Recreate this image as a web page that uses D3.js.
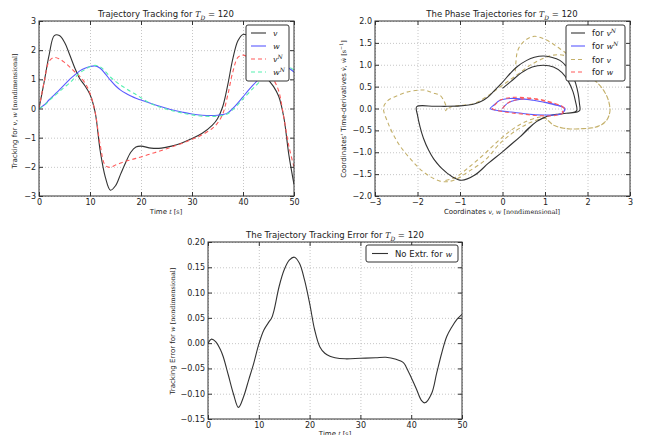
<!DOCTYPE html>
<html>
<head>
<meta charset="utf-8">
<script src="https://cdn.jsdelivr.net/npm/d3@7"></script>
<style>
  body { margin: 0; background: #fff; }
  svg { display: block; }
</style>
</head>
<body>
<svg id="fig" width="646" height="435"></svg>
<script>
// ---- data: trajectory tracking (top left) ----
const tTrack = [0,1,2,3,4,5,6,7,8,9,10,11,12,13,14,15,16,17,18,19,20,22,24,26,28,30,32,34,35,36,37,38,39,40,41,42,43,44,45,46,47,48,49,50];
const vTrack = [0,0.9,1.85,2.5,2.5,2.27,1.85,1.4,1.02,0.78,0.48,-0.12,-1.45,-2.35,-2.8,-2.65,-2.25,-1.85,-1.5,-1.32,-1.29,-1.36,-1.36,-1.29,-1.18,-1.03,-0.85,-0.57,-0.35,0.05,0.8,1.7,2.32,2.54,2.48,2.2,1.7,1.25,0.98,0.75,0.42,-0.3,-1.6,-2.6];
const wTrack = [0,0.12,0.3,0.47,0.64,0.82,1.0,1.15,1.29,1.38,1.44,1.46,1.38,1.19,0.97,0.78,0.63,0.52,0.43,0.35,0.29,0.17,0.06,-0.04,-0.12,-0.19,-0.23,-0.24,-0.23,-0.21,-0.15,0.0,0.19,0.4,0.61,0.81,0.99,1.15,1.28,1.38,1.44,1.45,1.38,1.25];
const vNTrack = [0,0.9,1.62,1.75,1.7,1.58,1.43,1.26,1.1,0.88,0.52,-0.12,-1.25,-1.95,-2.02,-1.94,-1.87,-1.81,-1.76,-1.71,-1.66,-1.55,-1.44,-1.32,-1.2,-1.06,-0.9,-0.68,-0.5,-0.2,0.45,1.25,1.75,1.83,1.75,1.6,1.45,1.3,1.15,0.98,0.6,-0.3,-1.3,-2.0];
const wNTrack = [0,0.1,0.27,0.43,0.58,0.73,0.88,1.05,1.22,1.34,1.43,1.48,1.43,1.27,1.08,0.93,0.8,0.69,0.58,0.48,0.37,0.16,0.03,-0.07,-0.15,-0.22,-0.26,-0.27,-0.26,-0.24,-0.18,-0.04,0.13,0.33,0.51,0.7,0.87,1.05,1.22,1.36,1.45,1.48,1.43,1.31];

// ---- data: phase trajectories (top right), [coordinate, derivative] ----
const phaseVN = [[0,0.46],[0.2,0.62],[0.45,0.82],[0.7,0.95],[0.96,0.99],[1.2,0.95],[1.4,0.82],[1.55,0.62],[1.66,0.38],[1.72,0.15],[1.75,-0.04],[1.7,-0.08],[1.5,-0.11],[1.3,-0.13],[1.12,-0.16],[0.95,-0.22],[0.8,-0.3],[0.6,-0.46],[0.41,-0.65],[0.2,-0.82],[0,-0.99],[-0.33,-1.25],[-0.65,-1.52],[-0.96,-1.64],[-1.2,-1.55],[-1.43,-1.37],[-1.62,-1.15],[-1.74,-0.95],[-1.86,-0.68],[-1.94,-0.42],[-2.0,-0.15],[-2.02,0.04],[-1.6,0.05],[-1.3,0.05],[-1.0,0.06],[-0.8,0.08],[-0.65,0.11],[-0.45,0.19],[-0.33,0.27],[-0.15,0.45],[0,0.6],[0.18,0.8],[0.35,0.96],[0.57,1.1],[0.75,1.17],[0.96,1.2],[1.15,1.17],[1.35,1.1],[1.5,0.97],[1.63,0.8],[1.72,0.58],[1.78,0.34],[1.81,0.12],[1.82,-0.04],[1.76,-0.08],[1.5,-0.11],[1.12,-0.16],[0.95,-0.22],[0.8,-0.3],[0.41,-0.65],[0,-0.99],[-0.33,-1.25],[-0.65,-1.52],[-0.96,-1.64],[-1.2,-1.55],[-1.43,-1.37],[-1.62,-1.15]];
const phaseWN = [[0,0],[0.05,0.06],[0.15,0.14],[0.3,0.19],[0.5,0.21],[0.72,0.19],[0.95,0.15],[1.12,0.11],[1.3,0.07],[1.39,0.04],[1.46,0],[1.44,-0.07],[1.38,-0.12],[1.2,-0.15],[1.0,-0.15],[0.72,-0.14],[0.45,-0.11],[0.2,-0.08],[0,-0.06],[-0.15,-0.04],[-0.25,-0.02],[-0.29,0],[-0.2,0.08],[-0.06,0.19],[0.18,0.23],[0.45,0.22],[0.72,0.19],[1.0,0.14],[1.2,0.1],[1.39,0.05],[1.47,0.0],[1.44,-0.08],[1.3,-0.15]];
const phaseV = [[0.3,0.85],[0.32,1.1],[0.35,1.3],[0.45,1.48],[0.6,1.6],[0.76,1.65],[0.95,1.6],[1.12,1.52],[1.3,1.4],[1.51,1.25],[1.7,1.06],[1.9,0.87],[2.1,0.7],[2.29,0.53],[2.42,0.35],[2.49,0.19],[2.53,-0.04],[2.5,-0.17],[2.45,-0.27],[2.35,-0.36],[2.21,-0.42],[1.9,-0.46],[1.51,-0.46],[1.2,-0.38],[1.08,-0.28],[0.98,-0.22],[0.85,-0.25],[0.57,-0.36],[0.25,-0.55],[-0.06,-0.8],[-0.41,-1.18],[-0.8,-1.44],[-1.12,-1.63],[-1.43,-1.67],[-1.82,-1.48],[-2.14,-1.18],[-2.45,-0.8],[-2.69,-0.34],[-2.8,0.02],[-2.7,0.18],[-2.53,0.27],[-2.3,0.36],[-2.14,0.4],[-1.95,0.42],[-1.82,0.42],[-1.65,0.36],[-1.47,0.3],[-1.38,0.18],[-1.33,0.06],[-1.31,0.0],[-1.34,-0.05],[-1.3,-0.02],[-1.2,0.04],[-1.0,0.07],[-0.65,0.12],[-0.33,0.3],[-0.06,0.49],[0.33,0.76],[0.72,1.03],[1.2,1.22],[1.5,1.2],[1.7,1.08],[1.9,0.87],[2.1,0.7],[2.29,0.53],[2.42,0.35],[2.49,0.19],[2.53,-0.04],[2.45,-0.27],[2.21,-0.42],[1.9,-0.46],[1.51,-0.46],[1.2,-0.38],[1.08,-0.28],[0.98,-0.2],[0.85,-0.2],[0.5,-0.32],[0.2,-0.5],[-0.1,-0.74],[-0.45,-1.06],[-0.8,-1.35],[-1.1,-1.57],[-1.4,-1.66]];
const phaseW = [[0,0],[0.04,0.05],[0.12,0.12],[0.25,0.18],[0.45,0.22],[0.7,0.22],[0.95,0.18],[1.15,0.13],[1.32,0.08],[1.42,0.03],[1.46,-0.02],[1.42,-0.1],[1.3,-0.15],[1.1,-0.17],[0.8,-0.16],[0.5,-0.13],[0.2,-0.1],[0,-0.07],[-0.15,-0.04],[-0.24,0],[-0.18,0.08],[-0.04,0.2],[0.2,0.25],[0.5,0.25],[0.8,0.22],[1.05,0.17],[1.25,0.11],[1.4,0.05],[1.45,-0.01],[1.4,-0.08]];

// ---- data: tracking error (bottom) ----
const tErr = [0,0.7,1.5,2.5,3,4,5,6,7,8,9,10,11,12,12.5,13,14,15,16,17,18,19,20,21,22,23,24,25,27,30,33,35,37,38.5,39,40,41,42,42.7,44,45,46,47,48,49,50];
const errW = [0,0.008,0.003,-0.014,-0.027,-0.063,-0.1,-0.127,-0.106,-0.073,-0.04,-0.002,0.026,0.042,0.049,0.065,0.112,0.145,0.164,0.17,0.158,0.125,0.079,0.026,-0.007,-0.02,-0.026,-0.029,-0.031,-0.03,-0.029,-0.028,-0.032,-0.039,-0.047,-0.068,-0.09,-0.113,-0.118,-0.1,-0.06,-0.02,0.013,0.032,0.047,0.057];

// ---- tick values ----
const ticksTime = [0,10,20,30,40,50];
const ticksTrack = [-3,-2,-1,0,1,2,3];
const ticksCoord = [-3,-2,-1,0,1,2,3];
const ticksDeriv = [-2,-1.5,-1,-0.5,0,0.5,1,1.5,2];
const ticksErr = [-0.15,-0.1,-0.05,0,0.05,0.1,0.15,0.2];

const SANS = "'DejaVu Sans', sans-serif";
const SERIF = "'DejaVu Serif', serif";
const FS = 8;

const svg = d3.select("#fig");

// text made of pieces: {t, it, serif, sub, sup}
function rich(sel, parts, size) {
    let shift = 0;
    parts.forEach(p => {
        const ts = sel.append("tspan").text(p.t);
        let want = 0;
        if (p.sub) want = size * 0.3;
        if (p.sup) want = -size * 0.4;
        if (want !== shift) { ts.attr("dy", want - shift); shift = want; }
        let fs = size;
        if (p.serif) fs = size * 0.92;
        if (p.sub || p.sup) fs = size * 0.7;
        if (fs !== size) ts.style("font-size", fs + "px");
        if (p.it) ts.style("font-style", "italic");
        if (p.serif) ts.style("font-family", SERIF);
    });
    return sel;
}

function panel(box, xd, yd, xt, yt, xf, yf, id) {
    const x = d3.scaleLinear().domain(xd).range([box.l, box.r]);
    const y = d3.scaleLinear().domain(yd).range([box.b, box.t]);
    const g = svg.append("g");
    const h = box.b - box.t, w = box.r - box.l;

    // grid
    g.append("g")
        .attr("transform", `translate(0,${box.b})`)
        .call(d3.axisBottom(x).tickValues(xt).tickSize(-h).tickFormat(""))
        .call(s => { s.select(".domain").remove(); s.selectAll("line").attr("stroke", "#b8b8b8").attr("stroke-width", 0.8).attr("stroke-dasharray", "1,2"); });
    g.append("g")
        .attr("transform", `translate(${box.l},0)`)
        .call(d3.axisLeft(y).tickValues(yt).tickSize(-w).tickFormat(""))
        .call(s => { s.select(".domain").remove(); s.selectAll("line").attr("stroke", "#b8b8b8").attr("stroke-width", 0.8).attr("stroke-dasharray", "1,2"); });

    svg.append("clipPath").attr("id", id)
        .append("rect").attr("x", box.l).attr("y", box.t).attr("width", w).attr("height", h);
    const plot = g.append("g").attr("clip-path", `url(#${id})`);
    const over = svg.append("g");

    const styleAxis = s => {
        s.select(".domain").remove();
        s.selectAll("line").attr("stroke", "#333");
        s.selectAll("text").style("font-family", SANS).style("font-size", FS + "px").attr("fill", "#222");
    };
    // ticks on all four sides, pointing inwards
    over.append("g").attr("transform", `translate(0,${box.b})`)
        .call(d3.axisBottom(x).tickValues(xt).tickFormat(xf).tickSize(-4).tickPadding(3)).call(styleAxis);
    over.append("g").attr("transform", `translate(0,${box.t})`)
        .call(d3.axisTop(x).tickValues(xt).tickFormat("").tickSize(-4)).call(styleAxis);
    over.append("g").attr("transform", `translate(${box.l},0)`)
        .call(d3.axisLeft(y).tickValues(yt).tickFormat(yf).tickSize(-4).tickPadding(3)).call(styleAxis);
    over.append("g").attr("transform", `translate(${box.r},0)`)
        .call(d3.axisRight(y).tickValues(yt).tickFormat("").tickSize(-4)).call(styleAxis);
    over.append("rect").attr("x", box.l).attr("y", box.t).attr("width", w).attr("height", h)
        .attr("fill", "none").attr("stroke", "#333").attr("stroke-width", 1);
    return { x, y, plot, over, box };
}

function label(parts, x, y, rotate, size) {
    const t = svg.append("text")
        .attr("text-anchor", "middle")
        .attr("transform", `translate(${x},${y})` + (rotate ? " rotate(-90)" : ""))
        .style("font-family", SANS).style("font-size", size + "px").attr("fill", "#222");
    return rich(t, parts, size);
}

function legend(items, bx, by, bw, bh, rowY, lineX, textX) {
    const lg = svg.append("g");
    lg.append("rect").attr("x", bx).attr("y", by).attr("width", bw).attr("height", bh)
        .attr("rx", 2).attr("fill", "#fff").attr("stroke", "#333").attr("stroke-width", 1);
    items.forEach((it, i) => {
        const yy = rowY[i];
        lg.append("line").attr("x1", lineX[0]).attr("x2", lineX[1]).attr("y1", yy).attr("y2", yy)
            .attr("stroke", it.color).attr("stroke-width", 1.1).attr("stroke-dasharray", it.dash || null);
        const t = lg.append("text").attr("x", textX).attr("y", yy + 3)
            .style("font-family", SANS).style("font-size", "8.5px").attr("fill", "#222");
        rich(t, it.label, 8.5);
    });
}

const curve = d3.curveCatmullRom.alpha(0.5);
const fmt1 = d3.format(".1f"), fmt2 = d3.format(".2f"), fmt0 = d3.format("d");

const C_BLACK = "#333333", C_BLUE = "#5a5aff", C_RED = "#ff5a5a", C_CYAN = "#55f0b0", C_TAN = "#c4b06a";
const AX = 7;

// ---------- top left: trajectory tracking ----------
const p1 = panel({ l: 39, r: 294, t: 21, b: 196 }, [0, 50], [-3, 3], ticksTime, ticksTrack, fmt0, fmt0, "c1");
const trackSeries = [
    { vals: vTrack, color: C_BLACK, dash: null },
    { vals: wTrack, color: C_BLUE, dash: null },
    { vals: vNTrack, color: C_RED, dash: "4,3" },
    { vals: wNTrack, color: C_CYAN, dash: "4,3" }
];
trackSeries.forEach(s => {
    const line = d3.line().x((d, i) => p1.x(tTrack[i])).y(d => p1.y(d)).curve(curve);
    p1.plot.append("path").datum(s.vals).attr("d", line)
        .attr("fill", "none").attr("stroke", s.color).attr("stroke-width", 1.1)
        .attr("stroke-dasharray", s.dash);
});
label([{ t: "Trajectory Tracking for " }, { t: "T", it: true, serif: true }, { t: "D", it: true, serif: true, sub: true }, { t: " = 120" }], 166, 17, false, 8.5);
label([{ t: "Time " }, { t: "t", it: true, serif: true }, { t: " [s]", serif: true }], 166, 214, false, AX);
label([{ t: "Tracking for " }, { t: "v", it: true, serif: true }, { t: ", ", serif: true }, { t: "w", it: true, serif: true }, { t: " [nondimensional]", serif: true }], 17, 111, true, AX);
legend([
    { color: C_BLACK, label: [{ t: "v", it: true, serif: true }] },
    { color: C_BLUE, label: [{ t: "w", it: true, serif: true }] },
    { color: C_RED, dash: "4,3", label: [{ t: "v", it: true, serif: true }, { t: "N", it: true, serif: true, sup: true }] },
    { color: C_CYAN, dash: "4,3", label: [{ t: "w", it: true, serif: true }, { t: "N", it: true, serif: true, sup: true }] }
], 246, 25, 43, 56, [33, 46, 59, 72], [251, 266], 273);

// ---------- top right: phase trajectories ----------
const p2 = panel({ l: 375, r: 630, t: 21, b: 196 }, [-3, 3], [-2, 2], ticksCoord, ticksDeriv, fmt0, fmt1, "c2");
const phaseSeries = [
    { pts: phaseV, color: C_TAN, dash: "4,3" },
    { pts: phaseVN, color: C_BLACK, dash: null },
    { pts: phaseWN, color: C_BLUE, dash: null },
    { pts: phaseW, color: C_RED, dash: "4,3" }
];
phaseSeries.forEach(s => {
    const line = d3.line().x(d => p2.x(d[0])).y(d => p2.y(d[1])).curve(curve);
    p2.plot.append("path").datum(s.pts).attr("d", line)
        .attr("fill", "none").attr("stroke", s.color).attr("stroke-width", 1.1)
        .attr("stroke-dasharray", s.dash);
});
label([{ t: "The Phase Trajectories for " }, { t: "T", it: true, serif: true }, { t: "D", it: true, serif: true, sub: true }, { t: " = 120" }], 502, 17, false, 8.5);
label([{ t: "Coordinates " }, { t: "v", it: true, serif: true }, { t: ", ", serif: true }, { t: "w", it: true, serif: true }, { t: " [nondimensional]", serif: true }], 502, 214, false, AX);
label([{ t: "Coordinates' Time-derivatives " }, { t: "v\u0307", it: true, serif: true }, { t: ", ", serif: true }, { t: "w\u0307", it: true, serif: true }, { t: " [s", serif: true }, { t: "\u22121", serif: true, sup: true }, { t: "]", serif: true }], 346, 109, true, AX);
legend([
    { color: C_BLACK, label: [{ t: "for " }, { t: "v", it: true, serif: true }, { t: "N", it: true, serif: true, sup: true }] },
    { color: C_BLUE, label: [{ t: "for " }, { t: "w", it: true, serif: true }, { t: "N", it: true, serif: true, sup: true }] },
    { color: C_TAN, dash: "4,3", label: [{ t: "for " }, { t: "v", it: true, serif: true }] },
    { color: C_RED, dash: "4,3", label: [{ t: "for " }, { t: "w", it: true, serif: true }] }
], 566, 25, 59, 56, [33, 46, 59.5, 72], [571, 585], 592);

// ---------- bottom: tracking error ----------
const p3 = panel({ l: 208, r: 462, t: 242, b: 419 }, [0, 50], [-0.15, 0.2], ticksTime, ticksErr, fmt0, fmt2, "c3");
const errLine = d3.line().x((d, i) => p3.x(tErr[i])).y(d => p3.y(d)).curve(curve);
p3.plot.append("path").datum(errW).attr("d", errLine)
    .attr("fill", "none").attr("stroke", C_BLACK).attr("stroke-width", 1.1);
label([{ t: "The Trajectory Tracking Error for " }, { t: "T", it: true, serif: true }, { t: "D", it: true, serif: true, sub: true }, { t: " = 120" }], 335, 238, false, 8.5);
label([{ t: "Time " }, { t: "t", it: true, serif: true }, { t: " [s]", serif: true }], 335, 436, false, AX);
label([{ t: "Tracking Error for " }, { t: "w", it: true, serif: true }, { t: " [nondimensional]", serif: true }], 175, 331, true, AX);
legend([
    { color: C_BLACK, label: [{ t: "No Extr. for " }, { t: "w", it: true, serif: true }] }
], 366, 245, 92, 17, [253.5], [372, 388], 395);
</script>
</body>
</html>
